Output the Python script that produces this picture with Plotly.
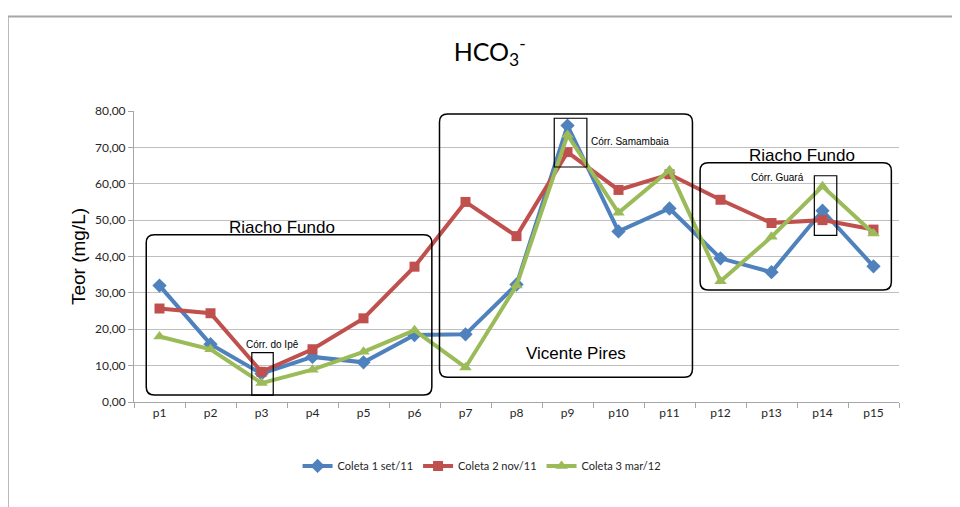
import plotly.graph_objects as go

# categories (sampling points)
pontos = ["p%d" % i for i in range(1, 16)]

# HCO3- content (mg/L) per sampling campaign
coleta1 = [32.0, 15.9, 7.8, 12.4, 10.9, 18.4, 18.6, 32.3, 76.0, 46.9, 53.2, 39.5, 35.7, 52.6, 37.3]
coleta2 = [25.7, 24.4, 8.3, 14.5, 23.0, 37.2, 55.0, 45.6, 68.7, 58.3, 62.6, 55.6, 49.2, 50.0, 47.4]
coleta3 = [18.0, 14.5, 5.2, 8.9, 13.8, 19.7, 9.5, 32.0, 73.4, 52.0, 63.7, 33.2, 45.4, 59.3, 46.3]

series = [
    ("Coleta 1 set/11", coleta1, "#4F81BD", "diamond", 11),
    ("Coleta 2 nov/11", coleta2, "#C0504D", "square", 10),
    ("Coleta 3 mar/12", coleta3, "#9BBB59", "triangle-up", 11),
]

fig = go.Figure()
for name, vals, color, symbol, msize in series:
    fig.add_trace(go.Scatter(
        x=pontos, y=vals, name=name, mode="lines+markers",
        line=dict(color=color, width=4),
        marker=dict(symbol=symbol, size=msize, color=color),
    ))


def rounded_box(x0, x1, y0, y1, rx=0.16, ry=2.2):
    # rounded rectangle path in data units
    return (f"M {x0+rx},{y0} L {x1-rx},{y0} Q {x1},{y0} {x1},{y0+ry} "
            f"L {x1},{y1-ry} Q {x1},{y1} {x1-rx},{y1} "
            f"L {x0+rx},{y1} Q {x0},{y1} {x0},{y1-ry} "
            f"L {x0},{y0+ry} Q {x0},{y0} {x0+rx},{y0} Z")


shapes = [
    dict(type="path", path=rounded_box(-0.26, 5.34, 1.9, 46.0)),
    dict(type="path", path=rounded_box(5.49, 10.45, 6.8, 79.2)),
    dict(type="path", path=rounded_box(10.60, 14.35, 30.8, 65.8)),
    dict(type="rect", x0=1.81, x1=2.23, y0=1.9, y1=13.6),
    dict(type="rect", x0=7.74, x1=8.38, y0=64.6, y1=78.0),
    dict(type="rect", x0=12.84, x1=13.28, y0=45.8, y1=62.2),
]
for s in shapes:
    s.update(xref="x", yref="y", line=dict(color="black", width=1.5), layer="above")
    if s["type"] == "rect":
        s["line"]["width"] = 1.2

# outer chart frame
shapes.append(dict(type="line", xref="paper", yref="paper",
                   x0=-0.165, x1=1.1, y0=1.325, y1=1.325,
                   line=dict(color="#A6A6A6", width=2)))
shapes.append(dict(type="line", xref="paper", yref="paper",
                   x0=-0.165, x1=-0.165, y0=1.325, y1=-0.4,
                   line=dict(color="#A6A6A6", width=2)))

big = dict(family="Liberation Sans, Arial", size=17, color="black")
small = dict(family="Liberation Sans, Arial", size=10, color="black")
annotations = [
    dict(x=2.41, y=47.9, text="Riacho Fundo", font=big),
    dict(x=8.16, y=13.2, text="Vicente Pires", font=big),
    dict(x=12.59, y=67.9, text="Riacho Fundo", font=big),
    dict(x=2.22, y=15.9, text="Córr. do Ipê", font=small),
    dict(x=8.42, y=71.6, text="Córr. Samambaia", font=small, xanchor="left"),
    dict(x=12.12, y=61.6, text="Córr. Guará", font=small),
]
for a in annotations:
    a.update(xref="x", yref="y", showarrow=False)

fig.update_layout(
    width=960, height=507,
    margin=dict(l=126, r=69, t=103, b=113),
    paper_bgcolor="white", plot_bgcolor="white",
    separators=",.",
    font=dict(family="Lato, Carlito, Calibri, sans-serif", size=11, color="#262626"),
    title=dict(text="HCO<sub>3</sub><sup>-</sup>", x=0.465, xref="paper", xanchor="center",
               y=0.913, yanchor="middle",
               font=dict(family="Lato, Carlito, sans-serif", size=25, color="black")),
    showlegend=True,
    legend=dict(orientation="h", x=0.455, xanchor="center", y=-0.17, yanchor="top",
                font=dict(size=11, color="#262626"), itemwidth=30,
                traceorder="normal"),
    xaxis=dict(type="category", showgrid=False, showline=True, linecolor="#A6A6A6",
               linewidth=1, ticks="outside", tickson="boundaries", ticklen=5,
               tickcolor="#A6A6A6", tickfont=dict(size=12), zeroline=False,
               range=[-0.5, 14.5]),
    yaxis=dict(range=[0, 80], dtick=10, tickformat=".2f", showgrid=True,
               gridcolor="#BFBFBF", gridwidth=1, showline=True, linecolor="#A6A6A6",
               ticks="outside", ticklen=5, tickcolor="#A6A6A6", zeroline=False,
               tickfont=dict(size=12),
               title=dict(text="Teor (mg/L)", standoff=4,
                          font=dict(family="Liberation Sans, Arial", size=19, color="black"))),
    shapes=shapes,
    annotations=annotations,
)

fig.write_html("out.html")
